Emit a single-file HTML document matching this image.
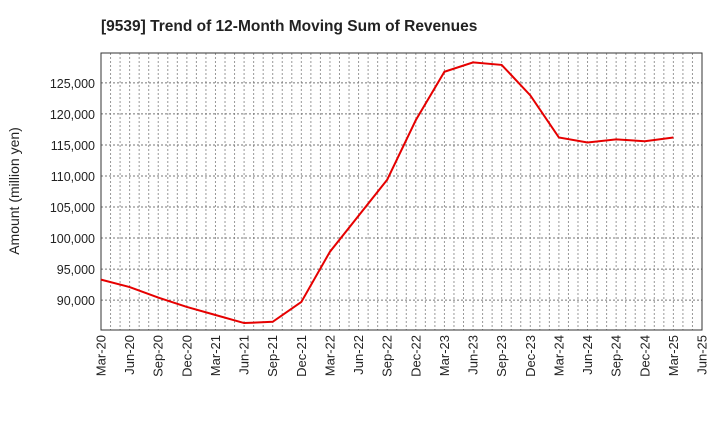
<!DOCTYPE html>
<html><head><meta charset="utf-8"><style>
body{margin:0;background:#fff;font-family:"Liberation Sans",sans-serif}
</style></head><body>
<svg id="chart" width="720" height="440" xmlns="http://www.w3.org/2000/svg">
<text x="101" y="31" font-size="15.5" font-weight="bold" fill="#222">[9539]  Trend of 12-Month Moving Sum of Revenues</text>
<text transform="translate(19,191) rotate(-90)" text-anchor="middle" font-size="14" fill="#222">Amount (million yen)</text>
<g id="grid"></g><g id="axes"></g><g id="series"></g>
</svg>
<script>
const categories=["Mar-20","Jun-20","Sep-20","Dec-20","Mar-21","Jun-21","Sep-21","Dec-21","Mar-22","Jun-22","Sep-22","Dec-22","Mar-23","Jun-23","Sep-23","Dec-23","Mar-24","Jun-24","Sep-24","Dec-24","Mar-25","Jun-25"];
const revenues=[93300,92100,90400,88900,87600,86300,86500,89700,97800,103600,109400,119000,126800,128300,127900,123000,116200,115400,115900,115600,116200];
const yTicks=[90000,95000,100000,105000,110000,115000,120000,125000];
const NS="http://www.w3.org/2000/svg";
const L=101,R=702,T=53,B=330,yMin=85180,yMax=129820;
const x=i=>L+(R-L)*i/(categories.length-1);
const y=v=>B-(v-yMin)/(yMax-yMin)*(B-T);
function mk(tag,attrs,parent){const e=document.createElementNS(NS,tag);for(const k in attrs)e.setAttribute(k,attrs[k]);parent.appendChild(e);return e;}
const grid=document.getElementById('grid'),axes=document.getElementById('axes'),series=document.getElementById('series');
const nM=(categories.length-1)*3;
for(let m=1;m<nM;m++){const xx=L+(R-L)*m/nM;
const g=mk('line',{x1:xx,x2:xx,y1:T,y2:B,stroke:'#999','stroke-dasharray':'2,2','stroke-width':1},grid);

}
yTicks.forEach(v=>{
const g=mk('line',{x1:L,x2:R,y1:y(v),y2:y(v),stroke:'#777','stroke-dasharray':'2,2','stroke-width':1},grid);


const t=mk('text',{x:L-6,y:y(v)+5,'text-anchor':'end','font-size':12.5,fill:'#222'},axes);
t.textContent=v.toLocaleString('en-US');

});
categories.forEach((c,i)=>{
const t=mk('text',{transform:`translate(${x(i)+4.5},${B+5}) rotate(-90)`,'text-anchor':'end','font-size':13,fill:'#222'},axes);
t.textContent=c;

});
const fr=mk('rect',{x:L,y:T,width:R-L,height:B-T,fill:'none',stroke:'#333','stroke-width':1},axes);


const p=mk('polyline',{points:revenues.map((v,i)=>x(i)+','+y(v)).join(' '),fill:'none',stroke:'#e60000','stroke-width':2},series);


</script>
</body></html>
